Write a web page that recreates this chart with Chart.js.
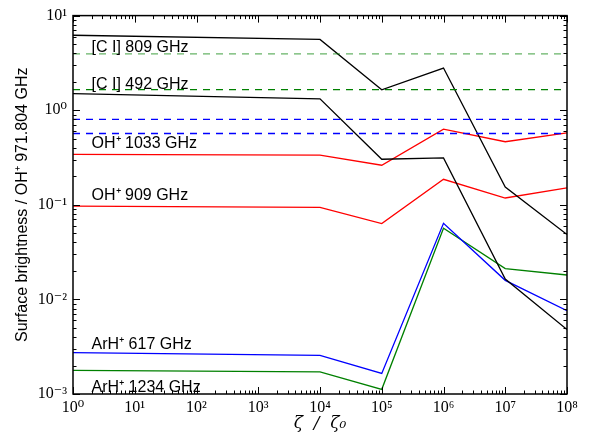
<!DOCTYPE html>
<html>
<head>
<meta charset="utf-8">
<script src="https://cdn.jsdelivr.net/npm/chart.js"></script>
<style>
  html, body { margin: 0; padding: 0; background: #fff; }
  .chart-parent { width: 593px; height: 436px; }
</style>
</head>
<body>
<div class="chart-parent">
  <canvas id="myChart"></canvas>
</div>
<script>
// cosmic-ray ionisation rate (zeta / zeta0)
const zeta = [1, 1e4, 1e5, 1e6, 1e7, 1e8];

// model line ratios relative to OH+ 971.804 GHz
const ci809 = [6.2, 5.6, 1.64, 2.79, 0.154, 0.0485];
const ci492 = [1.5, 1.32, 0.303, 0.313, 0.0164, 0.0048];
const oh1033 = [0.342, 0.335, 0.262, 0.63, 0.464, 0.577];
const oh909 = [0.097, 0.094, 0.0632, 0.186, 0.118, 0.151];
const arh617 = [0.00274, 0.00256, 0.00165, 0.0637, 0.0159, 0.00758];
const arh1234 = [0.00178, 0.00171, 0.00112, 0.0565, 0.0212, 0.0181];

// observed levels (dashed)
const obsCi809 = 3.94;
const obsCi492 = 1.65;
const obsBlueHi = 0.80;
const obsBlueLo = 0.567;

// text labels: [text, zeta, value]
const labelText = ["[C I] 809 GHz", "[C I] 492 GHz", "OH\u207A 1033 GHz", "OH\u207A 909 GHz", "ArH\u207A 617 GHz", "ArH\u207A 1234 GHz"];
const labelX = [2.0, 2.0, 2.0, 2.0, 2.0, 2.0];
const labelY = [4.1, 1.68, 0.395, 0.113, 0.00296, 0.00106];

const xTicks = [1, 1e1, 1e2, 1e3, 1e4, 1e5, 1e6, 1e7, 1e8];
const yTicks = [1e-3, 1e-2, 1e-1, 1e0, 1e1];

const sup = { "-": "\u207B", "0": "\u2070", "1": "\u00B9", "2": "\u00B2", "3": "\u00B3", "4": "\u2074", "5": "\u2075", "6": "\u2076", "7": "\u2077", "8": "\u2078", "9": "\u2079" };
const pow10 = (v) => "10" + String(Math.round(Math.log10(v))).split("").map(c => sup[c]).join("");

const pts = (ys) => zeta.map((z, i) => ({ x: z, y: ys[i] }));
const flat = (v) => [{ x: 1, y: v }, { x: 1e8, y: v }];

const solid = (data, color) => ({ data: pts(data), borderColor: color, borderWidth: 1.3, pointRadius: 0, tension: 0, fill: false });
const dashed = (v, color) => ({ data: flat(v), borderColor: color, borderWidth: 1.3, borderDash: [7, 6], pointRadius: 0, fill: false });

const framePlugin = {
  id: "frame",
  afterDraw(chart) {
    const ctx = chart.ctx;
    const a = chart.chartArea;
    const xs = chart.scales.x, ys = chart.scales.y;
    ctx.save();
    ctx.strokeStyle = "#000";
    ctx.lineWidth = 1;
    ctx.beginPath();
    for (let e = 0; e <= 8; e++) {
      for (let m = 1; m <= 9; m++) {
        const v = m * Math.pow(10, e);
        if (v > 1e8) break;
        const px = Math.round(xs.getPixelForValue(v)) + 0.5;
        const len = m === 1 ? 7 : 3.5;
        ctx.moveTo(px, a.bottom); ctx.lineTo(px, a.bottom - len);
        ctx.moveTo(px, a.top); ctx.lineTo(px, a.top + len);
      }
    }
    for (let e = -3; e <= 1; e++) {
      for (let m = 1; m <= 9; m++) {
        const v = m * Math.pow(10, e);
        if (v > 10) break;
        const py = Math.round(ys.getPixelForValue(v)) + 0.5;
        const len = m === 1 ? 7 : 3.5;
        ctx.moveTo(a.left, py); ctx.lineTo(a.left + len, py);
        ctx.moveTo(a.right, py); ctx.lineTo(a.right - len, py);
      }
    }
    ctx.stroke();
    ctx.lineWidth = 1.5;
    ctx.strokeRect(a.left, a.top, a.right - a.left, a.bottom - a.top);

    ctx.fillStyle = "#000";
    ctx.font = "16px 'Liberation Sans', Arial, sans-serif";
    ctx.textAlign = "left";
    ctx.textBaseline = "alphabetic";
    labelText.forEach((t, i) => {
      ctx.fillText(t, xs.getPixelForValue(labelX[i]), ys.getPixelForValue(labelY[i]));
    });
    ctx.restore();
  }
};

new Chart(document.getElementById("myChart"), {
  type: "line",
  data: {
    datasets: [
      dashed(obsCi809, "rgba(0,128,0,0.6)"),
      dashed(obsCi492, "#008000"),
      dashed(obsBlueHi, "#0000ff"),
      dashed(obsBlueLo, "#0000ff"),
      solid(ci809, "#000000"),
      solid(ci492, "#000000"),
      solid(oh1033, "#ff0000"),
      solid(oh909, "#ff0000"),
      solid(arh617, "#0000ff"),
      solid(arh1234, "#008000")
    ]
  },
  options: {
    responsive: true,
    maintainAspectRatio: false,
    animation: false,
    layout: { padding: { left: 0, top: 12, right: 26, bottom: 0 } },
    plugins: { legend: { display: false }, tooltip: { enabled: false } },
    scales: {
      x: {
        type: "logarithmic",
        min: 1, max: 1e8,
        afterBuildTicks: (s) => { s.ticks = xTicks.map(v => ({ value: v })); },
        afterFit: (s) => { s.height = 42; },
        grid: { display: false, drawTicks: false },
        border: { display: false },
        ticks: {
          autoSkip: false, maxRotation: 0, padding: 4,
          color: "#000",
          font: { family: "'Liberation Serif', 'DejaVu Serif', serif", size: 16 },
          callback: (v) => pow10(v)
        },
        title: {
          display: true, text: "\u03B6  /  \u03B6\u2080", color: "#000",
          font: { family: "'DejaVu Serif', serif", size: 17, style: "italic" },
          padding: { top: 0, bottom: 2 }
        }
      },
      y: {
        type: "logarithmic",
        min: 1e-3, max: 10,
        afterBuildTicks: (s) => { s.ticks = yTicks.map(v => ({ value: v })); },
        afterFit: (s) => { s.width = 73; },
        grid: { display: false, drawTicks: false },
        border: { display: false },
        ticks: {
          autoSkip: false, padding: 6,
          color: "#000",
          font: { family: "'Liberation Serif', 'DejaVu Serif', serif", size: 16 },
          callback: (v) => pow10(v)
        },
        title: {
          display: true, text: "Surface brightness / OH\u207A 971.804 GHz", color: "#000",
          font: { family: "'Liberation Sans', Arial, sans-serif", size: 16 },
          padding: { top: 13, bottom: 0 }
        }
      }
    }
  },
  plugins: [framePlugin]
});
</script>
</body>
</html>
